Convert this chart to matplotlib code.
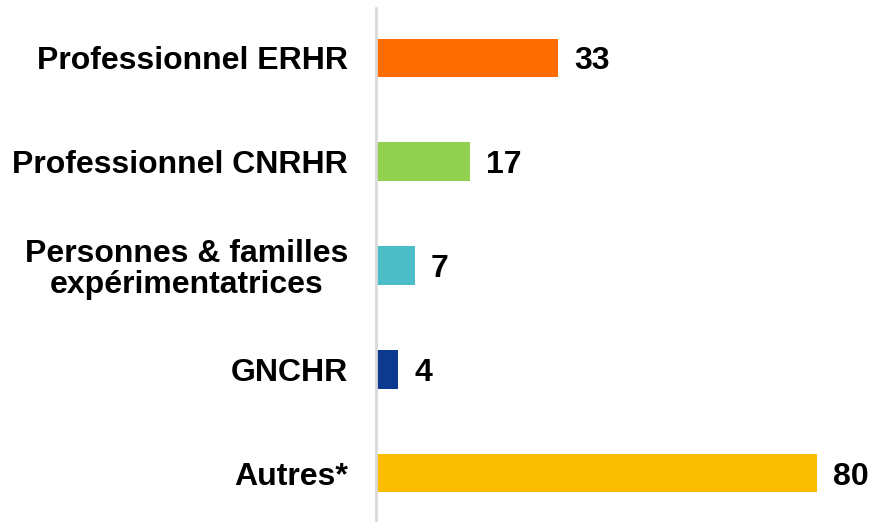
import matplotlib.pyplot as plt

categories = ["Professionnel ERHR", "Professionnel CNRHR",
              "Personnes & familles\nexpérimentatrices", "GNCHR", "Autres*"]
values = [33, 17, 7, 4, 80]
colors = ["#FF6D00", "#92D050", "#4BBDC6", "#0B3A8F", "#FABD00"]

plt.rcParams['font.family'] = ['Liberation Sans', 'DejaVu Sans']

fig = plt.figure(figsize=(8.74, 5.22), dpi=100)
ax = fig.add_axes([376 / 874, 0, 1 - 376 / 874, 514 / 522])

pos = list(range(len(categories)))
ax.barh(pos, values, height=0.37, color=colors)

# Value labels to the right of each bar
for p, v in zip(pos, values):
    ax.text(v + 3.0, p, str(v), va='center_baseline', ha='left',
            fontsize=23, fontweight='bold', color='black')

ax.set_ylim(4.47, -0.48)
ax.set_xlim(0, 90.4)
ax.set_yticks(pos)
ax.set_yticklabels(categories, fontsize=23, fontweight='bold',
                   linespacing=1.05, multialignment='center')
ax.tick_params(axis='y', length=0, pad=20)
ax.set_xticks([])

for s in ['top', 'right', 'bottom']:
    ax.spines[s].set_visible(False)
ax.spines['left'].set_color('#D9D9D9')
ax.spines['left'].set_linewidth(2)

fig.savefig("out.png", dpi=100)
